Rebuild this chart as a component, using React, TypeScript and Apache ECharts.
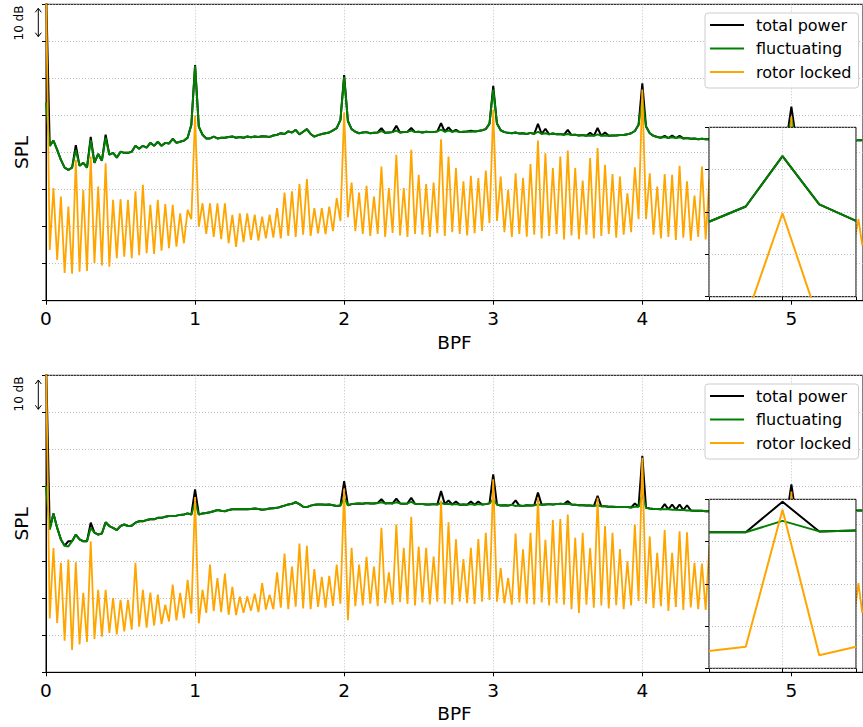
import React, { useEffect, useRef } from "react";
import * as echarts from "echarts";

// ---------------- data (dB, relative; 10 dB per grid line) ----------------
const STEP = 0.025; // BPF spacing of the plotted spectrum points
const X_TICK_LABELS = ["0", "1", "2", "3", "4", "5"];
const SERIES_NAMES = ["total power", "fluctuating", "rotor locked"];

// upper panel
const upperFluct = [
  53.4, 41.8, 43.2, 40.7, 38.0, 35.9, 35.3, 35.9, 40.7, 36.4, 37.2, 35.9, 43.4, 37.2, 39.6, 37.8, 44.0, 39.4, 39.9, 38.6,
  40.2, 39.9, 39.9, 40.2, 41.8, 41.0, 41.8, 41.3, 42.6, 41.8, 42.9, 41.8, 42.6, 42.4, 43.7, 42.6, 42.9, 43.2, 44.0, 47.5,
  63.4, 47.0, 44.8, 43.8, 43.8, 44.3, 43.8, 44.0, 44.0, 44.2, 44.3, 44.0, 44.2, 44.0, 44.3, 44.1, 44.3, 44.2, 44.4, 44.3,
  44.2, 44.6, 44.8, 45.2, 45.0, 45.7, 45.4, 46.1, 44.9, 45.6, 46.3, 45.0, 44.3, 44.7, 45.0, 45.2, 45.4, 46.0, 46.6, 48.8,
  60.4, 48.5, 46.3, 45.6, 45.2, 45.4, 45.5, 45.2, 45.3, 45.4, 45.8, 45.3, 45.4, 45.5, 45.9, 45.4, 45.5, 45.6, 45.9, 45.5,
  45.6, 45.4, 45.6, 45.5, 45.5, 45.7, 46.2, 45.6, 45.9, 45.6, 45.8, 45.5, 45.6, 45.7, 45.6, 45.7, 45.8, 46.0, 46.3, 47.8,
  57.0, 47.8, 46.0, 45.5, 45.3, 45.2, 45.4, 45.1, 45.2, 45.0, 45.3, 45.0, 45.6, 45.0, 45.2, 44.9, 45.1, 44.9, 45.0, 44.8,
  45.0, 44.7, 44.8, 44.6, 44.7, 44.5, 44.6, 44.5, 44.9, 44.5, 44.6, 44.5, 44.6, 44.6, 44.7, 44.7, 44.9, 45.2, 45.8, 47.5,
  54.4, 47.0, 45.2, 44.5, 44.2, 44.0, 44.2, 43.9, 44.1, 43.9, 44.1, 43.8, 43.9, 43.7, 43.8, 43.6, 43.7, 43.6, 43.6, 43.5,
  43.6, 43.5, 43.5, 43.6, 43.4, 43.5, 43.5, 43.4, 43.5, 43.4, 43.6, 43.5, 43.4, 43.5, 43.4, 43.5, 43.6, 43.7, 44.0, 45.5,
  48.8, 45.3, 44.0, 43.6, 43.5, 43.4, 43.5, 43.4, 43.4, 43.5, 43.4, 43.3, 43.4, 43.4, 43.3, 43.4, 43.4, 43.3, 43.4, 43.3,
];
const upperLocked = [
  85, 13.7, 30.4, 11.0, 28.1, 7.5, 25.4, 7.3, 38.0, 7.8, 29.9, 8.0, 38.9, 10.2, 30.8, 9.5, 37.1, 9.2, 27.2, 11.5,
  27.4, 11.9, 27.2, 11.5, 29.5, 12.3, 31.3, 12.8, 25.9, 12.6, 27.2, 13.5, 26.1, 14.2, 25.9, 14.6, 23.6, 15.5, 24.5, 22.0,
  50.0, 20.0, 26.3, 18.0, 26.3, 17.2, 26.3, 16.6, 26.3, 15.5, 23.2, 14.5, 23.6, 15.8, 23.6, 16.4, 23.2, 16.2, 22.7, 16.8,
  23.2, 17.0, 25.0, 16.8, 29.2, 17.5, 29.5, 17.2, 31.5, 17.8, 32.8, 17.5, 25.0, 18.2, 25.0, 18.0, 25.4, 18.8, 27.7, 21.5,
  50.8, 22.5, 31.9, 18.8, 29.2, 18.0, 31.0, 17.5, 28.1, 18.0, 36.2, 17.2, 30.4, 18.3, 39.4, 17.6, 30.4, 17.2, 40.7, 18.0,
  34.0, 17.8, 31.5, 17.2, 31.9, 18.2, 43.6, 17.5, 38.9, 18.5, 35.8, 18.0, 32.2, 17.6, 33.7, 18.2, 33.1, 18.8, 35.1, 21.0,
  51.5, 21.5, 33.5, 18.5, 29.9, 17.2, 34.4, 18.0, 33.1, 17.3, 36.9, 17.8, 43.2, 16.8, 39.8, 17.5, 35.8, 18.0, 38.9, 16.5,
  40.5, 17.6, 35.8, 16.6, 32.4, 17.8, 38.5, 16.8, 41.2, 17.5, 36.7, 18.0, 34.2, 17.0, 33.5, 17.8, 29.0, 18.5, 36.0, 22.0,
  57.0, 22.0, 34.4, 17.8, 30.8, 16.8, 34.2, 17.2, 34.0, 16.4, 36.4, 17.0, 32.2, 16.2, 28.4, 17.2, 36.2, 16.5, 33.0, 17.0,
  35.5, 16.8, 31.0, 17.4, 36.0, 16.6, 33.5, 17.2, 30.5, 16.9, 34.8, 17.5, 32.0, 16.8, 35.2, 17.3, 31.5, 17.6, 34.0, 21.0,
  49.7, 21.0, 33.0, 17.2, 35.5, 16.8, 31.8, 17.4, 34.6, 16.6, 30.2, 17.0, 33.8, 16.8, 31.2, 17.2, 29.5, 16.6, 22.0, 15.0,
];
// total power where it rises above the fluctuating part: [BPF, dB]
const upperTotalPeaks = [
  [0, 85], [0.2, 42.0], [0.3, 44.2], [0.4, 44.8], [1.0, 63.6], [2.0, 60.9], [2.25, 46.6], [2.35, 47.2],
  [2.45, 46.6], [2.65, 47.9], [2.7, 46.8], [2.75, 46.1], [2.85, 45.9], [3.0, 58.0], [3.3, 47.7], [3.35, 46.4],
  [3.5, 46.1], [3.65, 45.3], [3.7, 46.6], [3.75, 45.4], [4.0, 58.7], [4.15, 44.5], [4.2, 44.6], [4.25, 44.5],
  [5.0, 52.4],
];

// lower panel
const lowerFluct = [
  50.2, 38.5, 42.8, 38.9, 35.8, 34.1, 33.9, 35.3, 37.1, 35.8, 35.3, 35.3, 38.9, 37.6, 37.1, 37.4, 40.4, 39.4, 38.9, 38.3,
  39.4, 39.8, 39.4, 39.5, 40.3, 40.7, 40.7, 41.0, 41.2, 41.2, 41.6, 41.6, 41.9, 42.1, 42.1, 42.2, 42.4, 42.5, 42.8, 42.5,
  45.7, 42.5, 42.8, 42.9, 43.1, 43.4, 43.7, 43.5, 43.4, 43.7, 43.9, 43.9, 43.9, 43.9, 43.9, 44.0, 44.1, 44.0, 43.8, 43.9,
  44.1, 44.2, 44.3, 44.6, 44.9, 45.2, 45.4, 45.8, 45.3, 44.6, 44.5, 44.9, 45.1, 45.2, 45.2, 45.1, 45.2, 45.0, 44.8, 44.9,
  47.0, 45.0, 45.3, 45.4, 45.5, 45.4, 45.6, 45.5, 45.5, 45.6, 45.8, 45.5, 45.6, 45.5, 45.8, 45.5, 45.4, 45.5, 45.9, 45.4,
  45.3, 45.3, 45.2, 45.2, 45.3, 45.2, 45.6, 45.3, 45.4, 45.2, 45.3, 45.1, 45.2, 45.1, 45.3, 45.1, 45.3, 45.2, 45.3, 45.5,
  46.6, 45.2, 44.9, 45.0, 44.9, 45.1, 44.8, 44.9, 44.8, 45.0, 44.9, 45.0, 45.2, 45.1, 45.2, 45.3, 45.2, 45.3, 45.4, 45.3,
  45.4, 45.2, 45.1, 45.0, 45.0, 44.9, 44.9, 44.8, 45.0, 44.7, 44.7, 44.6, 44.6, 44.5, 44.5, 44.5, 44.5, 44.4, 44.6, 44.6,
  47.9, 44.3, 44.1, 44.0, 44.0, 43.9, 43.9, 43.9, 43.8, 43.8, 43.7, 43.7, 43.6, 43.6, 43.5, 43.5, 43.5, 43.4, 43.4, 43.4,
  43.4, 43.4, 43.5, 43.4, 43.4, 43.3, 43.4, 43.4, 43.3, 43.4, 43.4, 43.3, 43.4, 43.3, 43.4, 43.4, 43.3, 43.4, 43.5, 43.8,
  46.0, 43.8, 43.5, 43.4, 43.4, 43.3, 43.4, 43.4, 43.3, 43.4, 43.4, 43.3, 43.4, 43.3, 43.4, 43.4, 43.5, 43.6, 43.6, 43.6,
];
const lowerLocked = [
  85, 14.5, 33.5, 13.3, 29.5, 8.5, 30.4, 6.0, 29.6, 7.5, 21.4, 8.2, 35.3, 9.0, 22.2, 9.6, 22.2, 10.6, 20.0, 10.2,
  19.5, 11.0, 19.5, 11.5, 29.5, 12.3, 22.2, 12.0, 21.5, 12.6, 20.9, 13.0, 18.2, 13.7, 23.6, 14.0, 21.4, 14.6, 24.9, 15.8,
  47.2, 13.2, 22.2, 16.0, 29.0, 16.5, 25.4, 16.2, 26.6, 15.5, 23.0, 15.4, 20.4, 16.0, 20.4, 16.6, 21.2, 16.2, 24.0, 16.9,
  20.9, 17.0, 26.9, 17.4, 32.0, 17.0, 28.5, 17.7, 34.7, 17.2, 34.1, 17.0, 27.8, 17.6, 25.7, 17.4, 26.0, 17.9, 29.0, 18.5,
  49.5, 14.0, 33.5, 17.8, 29.0, 18.0, 31.1, 18.5, 28.5, 17.8, 38.9, 18.6, 26.9, 18.2, 39.8, 18.9, 33.5, 18.4, 41.9, 18.0,
  33.9, 18.8, 33.5, 18.3, 31.2, 19.0, 46.2, 18.5, 40.4, 18.2, 35.8, 19.0, 30.5, 18.6, 33.5, 18.4, 35.9, 19.0, 37.6, 19.5,
  52.0, 19.0, 28.1, 18.6, 25.4, 18.2, 37.4, 18.8, 33.1, 18.5, 37.6, 18.3, 47.0, 18.8, 35.7, 18.0, 41.0, 18.6, 41.3, 18.2,
  42.5, 17.0, 36.2, 16.0, 37.6, 18.2, 33.5, 17.4, 47.0, 18.0, 39.4, 17.2, 37.6, 18.1, 33.2, 17.0, 29.9, 18.0, 39.8, 19.2,
  57.8, 18.5, 36.6, 17.3, 32.2, 17.8, 38.3, 16.5, 32.2, 17.6, 38.0, 16.8, 37.7, 17.5, 29.5, 17.0, 29.3, 16.8, 34.0, 17.2,
  36.5, 16.9, 31.5, 17.3, 35.0, 16.7, 33.8, 17.1, 30.8, 16.9, 36.2, 17.4, 32.5, 16.8, 34.5, 17.2, 31.0, 17.5, 35.0, 20.5,
  48.7, 20.5, 32.5, 17.0, 35.8, 16.8, 31.5, 17.3, 34.2, 16.6, 30.8, 17.0, 33.2, 16.7, 30.6, 17.1, 28.8, 16.5, 24.0, 16.0,
];
const lowerTotalPeaks = [
  [0, 85], [0.15, 35.3], [0.3, 40.3], [1.0, 49.3], [2.0, 51.5], [2.25, 46.6], [2.35, 46.8], [2.45, 47.0],
  [2.65, 48.8], [2.7, 46.3], [2.75, 46.0], [2.85, 46.0], [2.9, 46.0], [3.0, 53.3], [3.15, 46.3], [3.3, 48.4],
  [3.5, 46.1], [3.7, 47.5], [3.95, 45.5], [4.0, 58.3], [4.15, 45.3], [4.2, 45.2], [4.25, 45.2], [4.3, 45.0],
  [5.0, 50.6],
];

// insets: five bins around 5 BPF (bin offsets), relative levels
const insetBins = [-2, -1, 0, 1, 2];
const upperInsetTotal = [1.77, 2.13, 3.32, 2.18, 1.79];
const upperInsetFluct = [1.77, 2.13, 3.32, 2.18, 1.79];
const upperInsetLocked = [-1.6, -0.53, 1.97, -0.6, -1.4];
const lowerInsetTotal = [3.22, 3.22, 3.94, 3.24, 3.26];
const lowerInsetFluct = [3.22, 3.22, 3.49, 3.24, 3.26];
const lowerInsetLocked = [0.41, 0.51, 3.75, 0.31, 0.51];

// ---------------- helpers ----------------
const FONT = '"DejaVu Sans", "Liberation Sans", sans-serif';
const COLORS = { total: "#000000", fluct: "#008000", locked: "#ffa500" };
const freqs = upperFluct.map((_, i) => Math.round(i * STEP * 1000) / 1000);
const toPairs = (ys: number[]) => ys.map((y, i) => [freqs[i], y]);
const withPeaks = (base: number[], peaks: number[][]) => {
  const out = base.slice();
  peaks.forEach(([f, v]) => {
    out[Math.round(f / STEP)] = v;
  });
  return out;
};
const insetPairs = (ys: number[]) => ys.map((y, i) => [insetBins[i], y]);

const PX_PER_BPF = 149.26;
const MAIN_W = 818;
const X_MAX = MAIN_W / PX_PER_BPF;

const gridLine = { show: true, lineStyle: { color: "#b0b0b0", width: 0.8, type: [1, 2] as any } };

function mainAxes(idx: number) {
  const x = {
    type: "value",
    gridIndex: idx,
    min: 0,
    max: X_MAX,
    interval: 1,
    name: "BPF",
    nameLocation: "middle",
    nameGap: 32,
    nameTextStyle: { fontFamily: FONT, fontSize: 18.5, color: "#000" },
    axisLine: { show: true, onZero: false, lineStyle: { color: "#000", width: 1 } },
    axisTick: { show: true, length: 4, lineStyle: { color: "#000" } },
    axisLabel: {
      show: true,
      margin: 8.5,
      showMaxLabel: false,
      fontFamily: FONT,
      fontSize: 18.5,
      color: "#000",
      formatter: (v: number) => (Number.isInteger(v) ? X_TICK_LABELS[v] ?? "" : ""),
    },
    splitLine: gridLine,
  };
  const y = {
    type: "value",
    gridIndex: idx,
    min: 0,
    max: 80,
    interval: 10,
    name: "SPL",
    nameLocation: "middle",
    nameGap: 15,
    nameTextStyle: { fontFamily: FONT, fontSize: 18.5, color: "#000" },
    axisLine: { show: true, onZero: false, lineStyle: { color: "#000", width: 1 } },
    axisTick: { show: true, length: 4, lineStyle: { color: "#000" } },
    axisLabel: { show: false },
    splitLine: gridLine,
  };
  return { x, y };
}

function insetAxes(idx: number) {
  const x = {
    type: "value",
    gridIndex: idx,
    position: "bottom",
    min: -2,
    max: 2,
    interval: 2,
    z: 11,
    axisLine: { show: false, onZero: false },
    axisTick: { show: true, length: 4, lineStyle: { color: "#000" } },
    axisLabel: { show: false },
    splitLine: gridLine,
  };
  const y = {
    type: "value",
    gridIndex: idx,
    position: "left",
    min: 0,
    max: 4,
    interval: 1,
    z: 11,
    axisLine: { show: false, onZero: false },
    axisTick: { show: true, length: 4, lineStyle: { color: "#000" } },
    axisLabel: { show: false },
    splitLine: gridLine,
  };
  return { x, y };
}

function line(name: string, axis: number, data: number[][], color: string, z: number, width: number) {
  return {
    type: "line",
    name,
    xAxisIndex: axis,
    yAxisIndex: axis,
    data,
    symbol: "none",
    showSymbol: false,
    clip: true,
    z,
    lineStyle: { color, width },
    itemStyle: { color },
    emphasis: { disabled: true },
  };
}

function legendAt(top: number) {
  return {
    data: SERIES_NAMES,
    orient: "vertical",
    left: 705,
    top,
    icon: "rect",
    itemWidth: 34,
    itemHeight: 2,
    itemGap: 5.5,
    padding: [3, 7, 7, 5],
    backgroundColor: "rgba(255,255,255,0.85)",
    borderColor: "#cccccc",
    borderWidth: 1,
    borderRadius: 3,
    selectedMode: false,
    z: 30,
    textStyle: { fontFamily: FONT, fontSize: 16, color: "#000", lineHeight: 18, padding: [0, 0, 0, 7] },
  };
}

function dbMarker(textY: number, y1: number, y2: number) {
  const ax = 38.3;
  return [
    {
      type: "text",
      x: 18.5,
      y: textY,
      rotation: Math.PI / 2,
      style: {
        text: "10 dB",
        fill: "#000",
        fontSize: 12,
        fontFamily: FONT,
        align: "center",
        verticalAlign: "middle",
        textAlign: "center",
        textVerticalAlign: "middle",
      },
    },
    { type: "line", shape: { x1: ax, y1, x2: ax, y2 }, style: { stroke: "#000", lineWidth: 1 } },
    {
      type: "polyline",
      shape: { points: [[ax - 3, y1 + 4], [ax, y1], [ax + 3, y1 + 4]] },
      style: { stroke: "#000", lineWidth: 1, fill: null },
    },
    {
      type: "polyline",
      shape: { points: [[ax - 3, y2 - 4], [ax, y2], [ax + 3, y2 - 4]] },
      style: { stroke: "#000", lineWidth: 1, fill: null },
    },
  ];
}

export default function App() {
  const ref = useRef<HTMLDivElement>(null);

  useEffect(() => {
    if (!ref.current) return;
    const chart = echarts.init(ref.current, null, { renderer: "svg" });

    const m0 = mainAxes(0);
    const m1 = mainAxes(1);
    const i0 = insetAxes(2);
    const i1 = insetAxes(3);

    const option: any = {
      animation: false,
      backgroundColor: "#ffffff",
      grid: [
        { left: 46, top: 4.3, width: MAIN_W, height: 296.4, show: true, borderColor: "#000", borderWidth: 1, backgroundColor: "transparent" },
        { left: 46, top: 375.3, width: MAIN_W, height: 297, show: true, borderColor: "#000", borderWidth: 1, backgroundColor: "transparent" },
        { left: 709, top: 127.3, width: 147, height: 169.4, show: true, borderColor: "#000", borderWidth: 1, backgroundColor: "#ffffff", z: 10 },
        { left: 709, top: 499.3, width: 147, height: 169, show: true, borderColor: "#000", borderWidth: 1, backgroundColor: "#ffffff", z: 10 },
      ],
      xAxis: [m0.x, m1.x, i0.x, i1.x],
      yAxis: [m0.y, m1.y, i0.y, i1.y],
      legend: [legendAt(13), legendAt(384)],
      graphic: [...dbMarker(23, 8.3, 36.7), ...dbMarker(394, 380, 409.3)],
      series: [
        line(SERIES_NAMES[0], 0, toPairs(withPeaks(upperFluct, upperTotalPeaks)), COLORS.total, 2, 2),
        line(SERIES_NAMES[1], 0, toPairs(upperFluct), COLORS.fluct, 2, 2),
        line(SERIES_NAMES[2], 0, toPairs(upperLocked), COLORS.locked, 2, 1.8),
        line(SERIES_NAMES[0], 1, toPairs(withPeaks(lowerFluct, lowerTotalPeaks)), COLORS.total, 2, 2),
        line(SERIES_NAMES[1], 1, toPairs(lowerFluct), COLORS.fluct, 2, 2),
        line(SERIES_NAMES[2], 1, toPairs(lowerLocked), COLORS.locked, 2, 1.8),
        line(SERIES_NAMES[0], 2, insetPairs(upperInsetTotal), COLORS.total, 12, 2),
        line(SERIES_NAMES[1], 2, insetPairs(upperInsetFluct), COLORS.fluct, 12, 2),
        line(SERIES_NAMES[2], 2, insetPairs(upperInsetLocked), COLORS.locked, 12, 2),
        line(SERIES_NAMES[0], 3, insetPairs(lowerInsetTotal), COLORS.total, 12, 2),
        line(SERIES_NAMES[1], 3, insetPairs(lowerInsetFluct), COLORS.fluct, 12, 2),
        line(SERIES_NAMES[2], 3, insetPairs(lowerInsetLocked), COLORS.locked, 12, 2),
      ],
    };

    chart.setOption(option);
    return () => chart.dispose();
  }, []);

  return (
    <div
      ref={ref}
      style={{ position: "absolute", left: 0, top: 0, width: 863, height: 727, background: "#fff" }}
    />
  );
}
